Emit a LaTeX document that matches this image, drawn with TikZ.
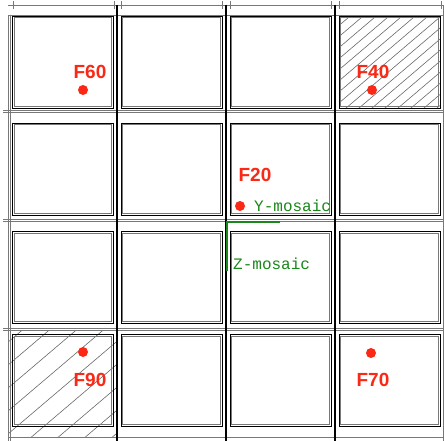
\documentclass[tikz,border=0pt]{standalone}
\usepackage{fontspec}
\setmainfont{Liberation Sans}
\newfontfamily\monofont{Liberation Mono}
\definecolor{fred}{RGB}{250,40,20}
\definecolor{mgreen}{RGB}{25,135,25}
\definecolor{lgray}{RGB}{120,120,120}
\begin{document}
\begin{tikzpicture}[x=1pt,y=-1pt,
  cellbox/.style={draw=black, line width=0.9pt, minimum width=101pt, minimum height=92pt,
    inner sep=0pt, outer sep=0pt,
    path picture={\draw[lgray, line width=0.8pt]
      ([xshift=1.8pt,yshift=-1.8pt]path picture bounding box.north west) rectangle
      ([xshift=-1.8pt,yshift=1.8pt]path picture bounding box.south east);}},
  gline/.style={lgray, line width=0.6pt},
  sepline/.style={black, line width=1.5pt},
  hatchline/.style={lgray!80!black, line width=0.55pt},
  flabel/.style={text=fred, font=\fontsize{19}{19}\selectfont\bfseries, inner sep=0pt},
  fdot/.style={circle, fill=fred, minimum size=10pt, inner sep=0pt},
  mlabel/.style={text=mgreen, font=\monofont\fontsize{16}{16}\selectfont, inner sep=0pt},
  mline/.style={mgreen, line width=2pt}]
\useasboundingbox (0,0) rectangle (444,441);
\fill[white] (0,0) rectangle (444,441);
% hatching
\begin{scope}
  \clip (339,16) rectangle (440,108);
  \foreach \c in {0,...,20} {\draw[hatchline] (215+13*\c,120) -- ++(141,-120);}
\end{scope}
\begin{scope}
  \clip (9,331) rectangle (116,437);
  \foreach \c in {0,...,10} {\draw[hatchline] (-140+27*\c,445) -- ++(260,-221);}
\end{scope}
% frame lines
\draw[gline] (8,5) -- (444,5);
\draw[gline] (8,15) -- (444,15);
\foreach \x in {13,114,121,222,230,331,339,441} {\draw[gline] (\x,1.5) -- (\x,9);}
\draw[gline] (8,15) -- (8,441);
\draw[gline] (10,15) -- (10,441);
\draw[gline] (443,5) -- (443,441);
\draw[gline] (8,437) -- (444,437);
\foreach \y in {110,219,328} {
  \draw[gline] (3,\y) -- (444,\y);
  \draw[gline] (3,\y+2.6) -- (444,\y+2.6);
}
\foreach \x in {117,226,335} {
  \draw[sepline] (\x,5) -- (\x,441);
}
% cells
\foreach \cx [count=\i] in {63,171.5,280.5,389.5} {
  \foreach \cy [count=\j] in {62,169,277.5,380.5} {
    \node[cellbox] (c\j\i) at (\cx,\cy) {};
  }
}
% labels and dots
\node[flabel] (f60) at (90,72) {F60};
\node[fdot] (d60) at (83,90) {};
\node[flabel] (f40) at (373,72) {F40};
\node[fdot] (d40) at (372,90) {};
\node[flabel] (f20) at (255,175) {F20};
\node[fdot] (d20) at (240,206) {};
\node[flabel] (f90) at (90,380) {F90};
\node[fdot] (d90) at (83,352) {};
\node[flabel] (f70) at (373,380) {F70};
\node[fdot] (d70) at (371,353) {};
% mosaic
\coordinate (gz) at (226.5,271);
\coordinate (gc) at (226.5,222);
\coordinate (gy) at (280,222);
\draw[mline] (gz) -- (gc) -- (gy);
\node[mlabel, anchor=base west] (ym) at (254,211) {Y-mosaic};
\node[mlabel, anchor=base west] (zm) at (233,269) {Z-mosaic};
\end{tikzpicture}
\end{document}
